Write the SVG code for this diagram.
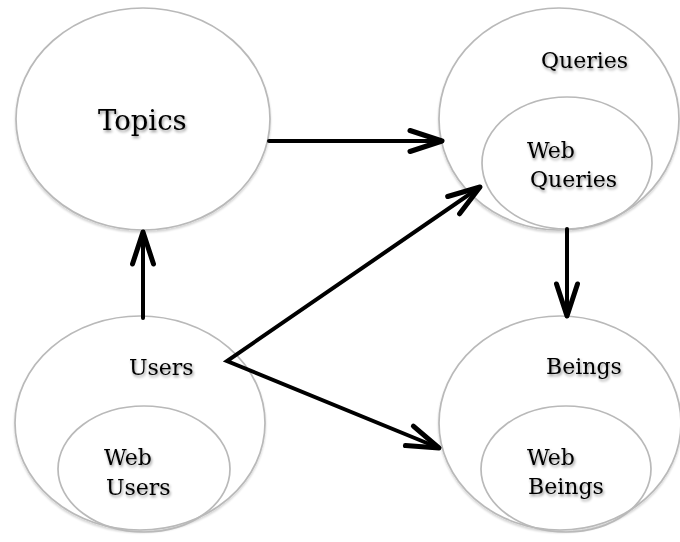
<svg xmlns="http://www.w3.org/2000/svg" width="680" height="542" viewBox="0 0 680 542">
  <defs>
    <filter id="softShadow" x="-10%" y="-10%" width="120%" height="130%">
      <feGaussianBlur in="SourceAlpha" stdDeviation="1.6"/>
      <feOffset dx="1" dy="2" result="b"/>
      <feComponentTransfer><feFuncA type="linear" slope="0.45"/></feComponentTransfer>
      <feMerge><feMergeNode/><feMergeNode in="SourceGraphic"/></feMerge>
    </filter>
    <filter id="ringShadow" x="-5%" y="-5%" width="110%" height="115%">
      <feGaussianBlur in="SourceAlpha" stdDeviation="1.2"/>
      <feOffset dx="0" dy="1.5"/>
      <feComponentTransfer><feFuncA type="linear" slope="0.18"/></feComponentTransfer>
      <feMerge><feMergeNode/><feMergeNode in="SourceGraphic"/></feMerge>
    </filter>
    <!-- open chevron head; orient auto-start-reverse lets it serve both ends of a path -->
    <marker id="chevron" markerUnits="userSpaceOnUse" viewBox="-36 -14 40 28" refX="0" refY="0" markerWidth="40" markerHeight="28" orient="auto-start-reverse">
      <path d="M -32,-10.5 L 0,0 L -32,10.5" fill="none" stroke="#000" stroke-width="5" stroke-linecap="round" stroke-linejoin="round"/>
    </marker>
    <style>
      .ring { fill: #fff; stroke: #b9b9b9; stroke-width: 1.7; filter: url(#ringShadow); }
      .inner { fill: none; stroke: #b9b9b9; stroke-width: 1.7; }
      .lbl { font-family: "DejaVu Serif", "Liberation Serif", serif; font-size: 22px; fill: #000; filter: url(#softShadow); }
      .big { font-size: 27.5px; }
      .edge { fill: none; stroke: #000; stroke-width: 4; stroke-linecap: round; stroke-linejoin: miter; stroke-miterlimit: 10; marker-end: url(#chevron); }
      .both { marker-start: url(#chevron); }
    </style>
  </defs>

  <rect width="680" height="542" fill="#fff"/>

  <g id="topics">
    <ellipse class="ring" cx="143" cy="119" rx="127" ry="111"/>
    <text class="lbl big" x="98" y="130">Topics</text>
  </g>

  <g id="queries">
    <ellipse class="ring" cx="559" cy="119" rx="120" ry="111"/>
    <text class="lbl" x="541" y="68">Queries</text>
    <g id="web-queries">
      <ellipse class="inner" cx="567" cy="163" rx="85" ry="66"/>
      <text class="lbl" x="527" y="158">Web</text>
      <text class="lbl" x="530" y="187">Queries</text>
    </g>
  </g>

  <g id="users">
    <ellipse class="ring" cx="140" cy="423" rx="125" ry="107"/>
    <text class="lbl" x="129" y="375">Users</text>
    <g id="web-users">
      <ellipse class="inner" cx="144" cy="469" rx="86" ry="63"/>
      <text class="lbl" x="104" y="465">Web</text>
      <text class="lbl" x="106" y="495">Users</text>
    </g>
  </g>

  <g id="beings">
    <ellipse class="ring" cx="560" cy="423" rx="121" ry="107"/>
    <text class="lbl" x="546" y="374">Beings</text>
    <g id="web-beings">
      <ellipse class="inner" cx="566" cy="469" rx="85" ry="63"/>
      <text class="lbl" x="527" y="465">Web</text>
      <text class="lbl" x="528" y="494">Beings</text>
    </g>
  </g>

  <g id="connectors">
    <line class="edge" x1="269" y1="141" x2="442" y2="141"/>
    <line class="edge" x1="143" y1="318" x2="143" y2="232"/>
    <line class="edge" x1="567" y1="229" x2="567" y2="316"/>
    <!-- Users fans out to Web Queries and Beings from one sharp vertex -->
    <polyline class="edge both" points="480,187 227,361 439,448"/>
  </g>
</svg>
